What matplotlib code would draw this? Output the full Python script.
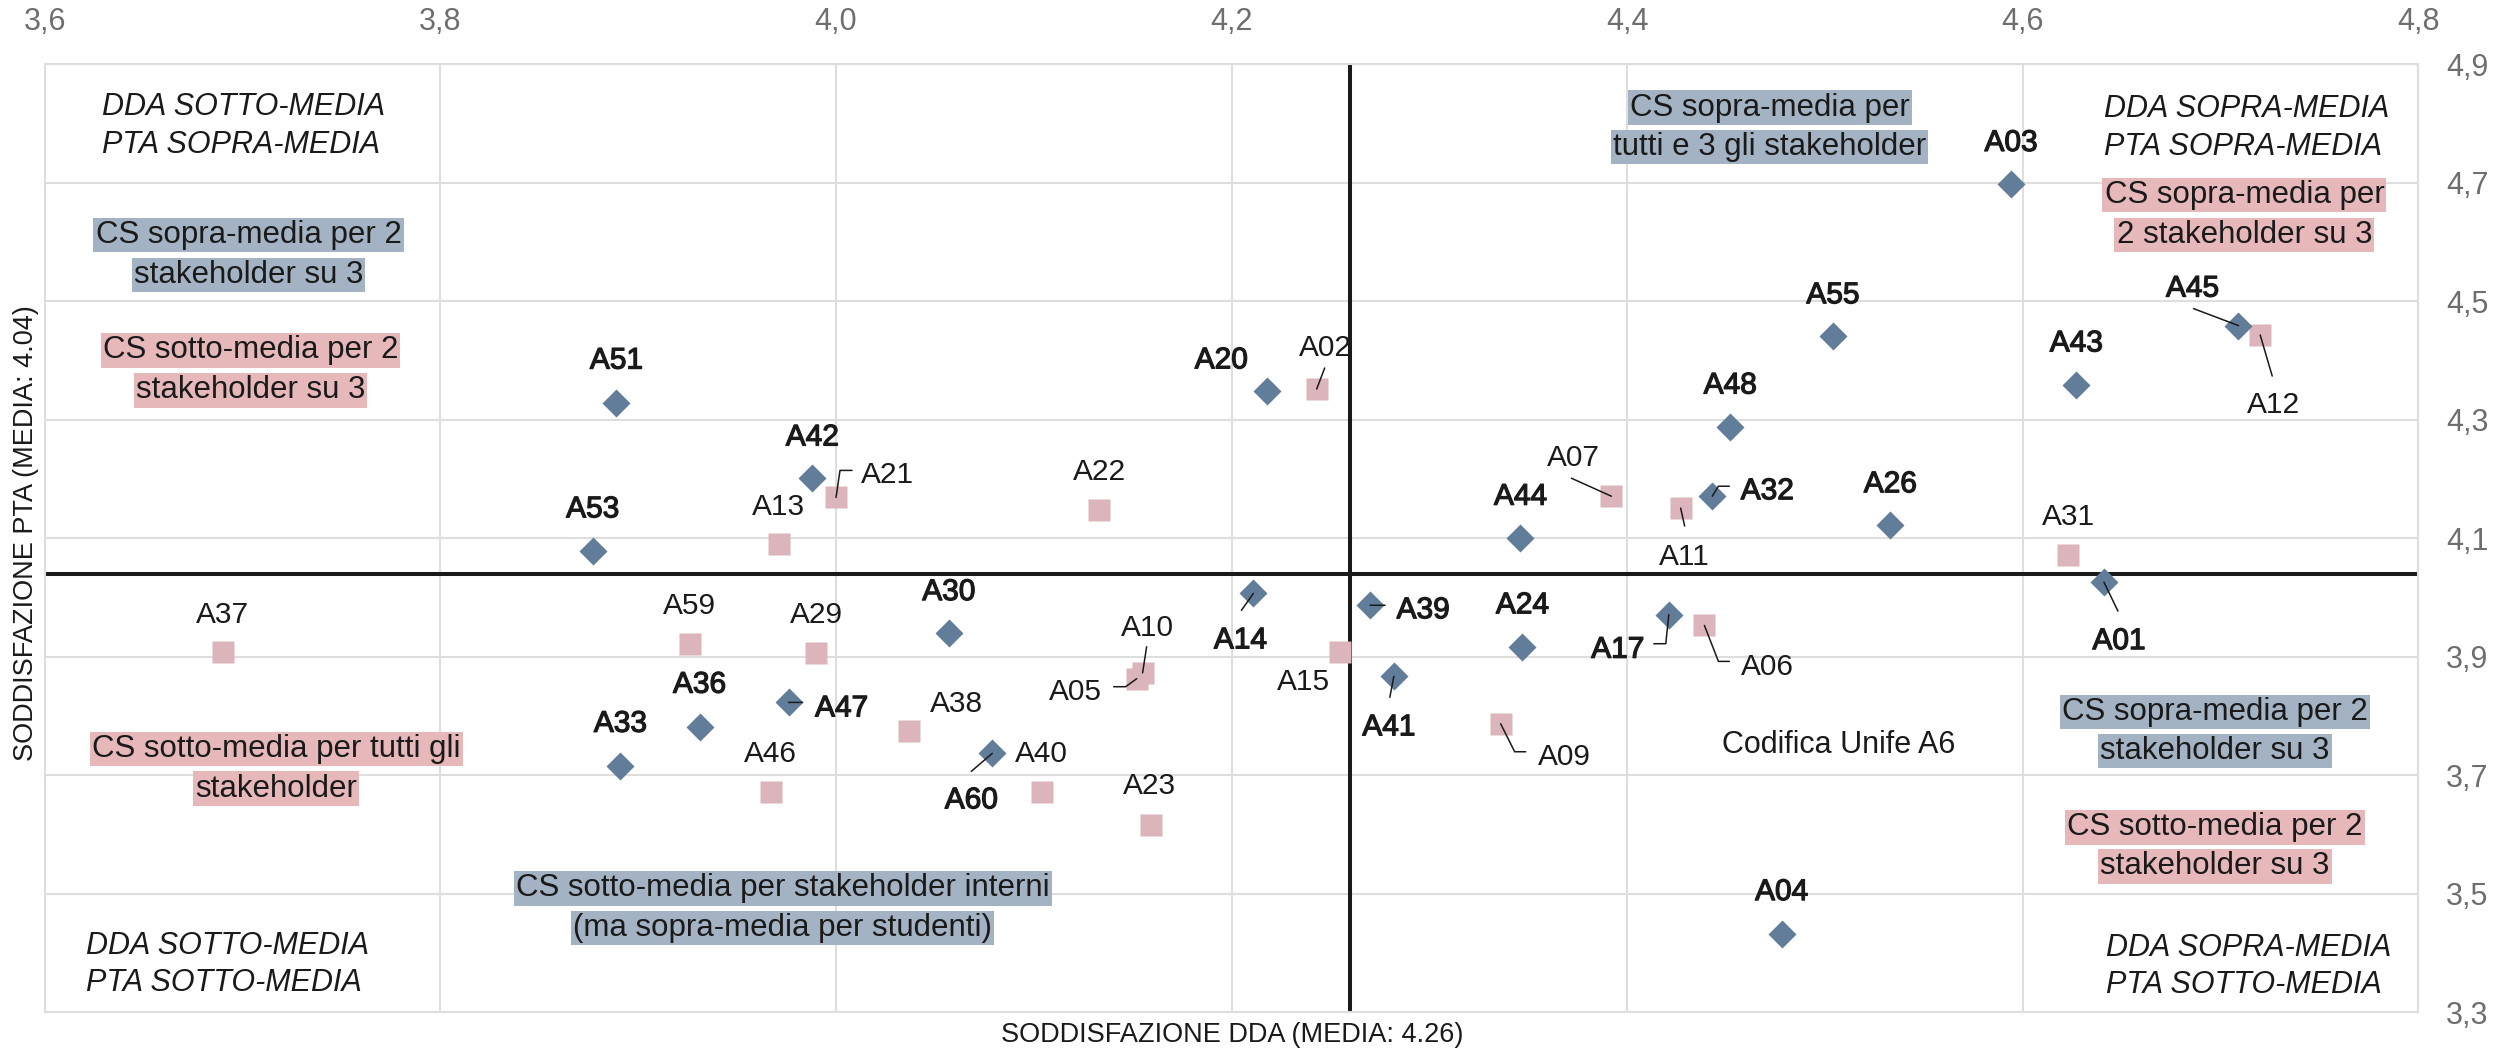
import numpy as np
import matplotlib
matplotlib.use("Agg")
import matplotlib.pyplot as plt
import matplotlib.patheffects as pe

plt.rcParams['font.family'] = ['Liberation Sans', 'DejaVu Sans']

# --- data -----------------------------------------------------------------
# diamonds: CdS with heavier labels
dia_codes = ["A51", "A42", "A53", "A20", "A44", "A03", "A55", "A45", "A43", "A48",
             "A32", "A26", "A36", "A33", "A47", "A30", "A14", "A39", "A24", "A17",
             "A41", "A60", "A01", "A04"]
dia_dda = [3.889, 3.988, 3.877, 4.218, 4.346, 4.594, 4.504, 4.709, 4.627, 4.452,
           4.443, 4.533, 3.931, 3.891, 3.976, 4.057, 4.211, 4.270, 4.347, 4.421,
           4.282, 4.079, 4.641, 4.478]
dia_pta = [4.329, 4.201, 4.078, 4.348, 4.101, 4.698, 4.441, 4.459, 4.358, 4.287,
           4.171, 4.122, 3.782, 3.716, 3.823, 3.940, 4.007, 3.987, 3.916, 3.971,
           3.867, 3.737, 4.026, 3.432]

# squares
sq_codes = ["A21", "A13", "A02", "A22", "A07", "A11", "A12", "A31", "A37", "A59",
            "A29", "A46", "A10", "A05", "A38", "A40", "A23", "A15", "A09", "A06"]
sq_dda = [4.000, 3.971, 4.243, 4.133, 4.392, 4.427, 4.720, 4.623, 3.690, 3.926,
          3.990, 3.967, 4.155, 4.152, 4.037, 4.104, 4.159, 4.255, 4.336, 4.439]
sq_pta = [4.169, 4.091, 4.352, 4.148, 4.171, 4.151, 4.443, 4.071, 3.908, 3.922,
          3.906, 3.671, 3.873, 3.863, 3.775, 3.672, 3.616, 3.908, 3.787, 3.953]

mean_dda = 4.26
mean_pta = 4.04

xticks = [3.6, 3.8, 4.0, 4.2, 4.4, 4.6, 4.8]
yticks = [3.3, 3.5, 3.7, 3.9, 4.1, 4.3, 4.5, 4.7, 4.9]

# --- label layout (offsets in pixels from the marker) -------------------------
label_off = {
    "A51": (0, 45), "A42": (0, 44), "A53": (0, 45), "A20": (-46, 34), "A44": (0, 44),
    "A03": (0, 44), "A55": (0, 44), "A45": (-46, 40), "A43": (0, 45), "A48": (0, 45),
    "A32": (55, 8), "A26": (0, 44), "A36": (0, 45), "A33": (0, 45), "A47": (53, -3),
    "A30": (0, 44), "A14": (-13, -44), "A39": (53, -2), "A24": (0, 45), "A17": (-51, -32),
    "A41": (-5, -48), "A60": (-21, -44), "A01": (15, -56), "A04": (0, 45),
    "A21": (51, 25), "A13": (0, 40), "A02": (9, 44), "A22": (0, 41), "A07": (-38, 41),
    "A11": (4, -46), "A12": (13, -67), "A31": (0, 41), "A37": (0, 40), "A59": (0, 41),
    "A29": (0, 41), "A46": (0, 41), "A10": (5, 48), "A05": (-61, -10), "A38": (47, 30),
    "A40": (0, 41), "A23": (-1, 42), "A15": (-37, -27), "A09": (64, -30), "A06": (63, -39),
}
# leader lines: start offset, optional elbow corner offset
leaders = {
    "A45": ((-45, 17), None), "A32": ((17, 10), (6, 10)), "A47": ((14, 0), None),
    "A14": ((-12, -17), None), "A39": ((15, 0), None), "A17": ((-15, -29), (-3, -29)),
    "A41": ((-4, -21), None), "A60": ((-21, -18), None), "A01": ((14, -29), None),
    "A21": ((16, 27), (4, 27)), "A02": ((8, 21), None), "A07": ((-40, 18), None),
    "A11": ((4, -18), None), "A12": ((12, -41), None), "A10": ((4, 26), None),
    "A05": ((-23, -8), (-11, -8)), "A09": ((25, -28), (14, -28)), "A06": ((25, -36), (14, -36)),
}

BLUE = '#617d99'
PINK = '#dbb5bb'
BOX_BLUE = '#a3b3c3'
BOX_PINK = '#e6b8b9'
INK = '#1a1a1a'
GRID = '#dedede'

fig = plt.figure(figsize=(25.01, 10.49), dpi=100)
ax = fig.add_axes([0.01791, 0.03499, 0.94909, 0.90372])
ax.set_xlim(3.6, 4.8)
ax.set_ylim(3.3, 4.9)

ax.set_xticks(xticks)
ax.set_yticks(yticks)
ax.set_xticklabels([f"{v:.1f}".replace('.', ',') for v in xticks])
ax.set_yticklabels([f"{v:.1f}".replace('.', ',') for v in yticks])
ax.xaxis.tick_top()
ax.yaxis.tick_right()
ax.tick_params(length=0, labelsize=22, labelcolor='#6e6e6e', pad=20)
ax.grid(True, color=GRID, linewidth=1.5)
ax.set_axisbelow(True)
for s in ax.spines.values():
    s.set_color(GRID)
    s.set_linewidth(1.5)

ax.axvline(mean_dda, color=INK, lw=2.9, zorder=2)
ax.axhline(mean_pta, color=INK, lw=2.9, zorder=2)

ax.plot(sq_dda, sq_pta, 's', ms=15.8, color=PINK, mec='none', zorder=3)
ax.plot(dia_dda, dia_pta, 'D', ms=14.5, color=BLUE, mec='none', zorder=4)

# semi-bold look for the diamond labels
semi = [pe.withStroke(linewidth=0.9, foreground=INK)]

points = {}
for c, x, y in zip(dia_codes, dia_dda, dia_pta):
    points[c] = (x, y, semi)
for c, x, y in zip(sq_codes, sq_dda, sq_pta):
    points[c] = (x, y, None)

for c, (x, y, fx) in points.items():
    dx, dy = label_off[c]
    ax.annotate(c, xy=(x, y), xytext=(dx, dy - 3), textcoords='offset pixels',
                ha='center', va='center', fontsize=21.5, color=INK, zorder=6,
                path_effects=fx)
    if c in leaders:
        start, corner = leaders[c]
        if corner is None:
            cs = 'arc3,rad=0'
        else:
            angB = np.degrees(np.arctan2(corner[1], corner[0]))
            cs = f'angle,angleA=0,angleB={angB:.1f},rad=0'
        ax.annotate('', xy=(x, y), xytext=start, textcoords='offset pixels',
                    arrowprops=dict(arrowstyle='-', color=INK, lw=1.1,
                                    shrinkA=0, shrinkB=0, connectionstyle=cs),
                    zorder=5)


def box_lines(x, y, lines, color, step=40):
    # highlight every line separately, boxes first then text
    for i, s in enumerate(lines):
        ax.annotate(s, xy=(x, y), xytext=(0, -i * step), textcoords='offset pixels',
                    ha='center', va='center', fontsize=22.5, color=(0, 0, 0, 0), zorder=6,
                    bbox=dict(boxstyle='square,pad=0.07', fc=color, ec='none'))
    for i, s in enumerate(lines):
        ax.annotate(s, xy=(x, y), xytext=(0, -i * step), textcoords='offset pixels',
                    ha='center', va='center', fontsize=22.5, color=INK, zorder=7)


def italic_lines(x, y, lines, step=38):
    for i, s in enumerate(lines):
        ax.annotate(s, xy=(x, y), xytext=(0, -i * step - 3), textcoords='offset pixels',
                    ha='left', va='center', fontsize=22, style='italic', color=INK, zorder=7)


italic_lines(3.629, 4.833, ["DDA SOTTO-MEDIA", "PTA SOPRA-MEDIA"])
italic_lines(4.641, 4.829, ["DDA SOPRA-MEDIA", "PTA SOPRA-MEDIA"])
italic_lines(3.621, 3.417, ["DDA SOTTO-MEDIA", "PTA SOTTO-MEDIA"], step=37.5)
italic_lines(4.642, 3.414, ["DDA SOPRA-MEDIA", "PTA SOTTO-MEDIA"], step=37.5)

box_lines(3.703, 4.612, ["CS sopra-media per 2", "stakeholder su 3"], BOX_BLUE)
box_lines(3.704, 4.417, ["CS sotto-media per 2", "stakeholder su 3"], BOX_PINK)
box_lines(4.472, 4.827, ["CS sopra-media per", "tutti e 3 gli stakeholder"], BOX_BLUE, step=39.5)
box_lines(4.712, 4.679, ["CS sopra-media per", "2 stakeholder su 3"], BOX_PINK)
box_lines(3.717, 3.744, ["CS sotto-media per tutti gli", "stakeholder"], BOX_PINK, step=39.4)
box_lines(3.973, 3.509, ["CS sotto-media per stakeholder interni", "(ma sopra-media per studenti)"],
          BOX_BLUE, step=39.3)
box_lines(4.697, 3.807, ["CS sopra-media per 2", "stakeholder su 3"], BOX_BLUE, step=39.4)
box_lines(4.697, 3.612, ["CS sotto-media per 2", "stakeholder su 3"], BOX_PINK, step=39)

ax.annotate("Codifica Unife A6", xy=(4.507, 3.757), xytext=(0, -3), textcoords='offset pixels',
            ha='center', va='center', fontsize=22, color=INK)

fig.text(0.4925, 1 - 1035 / 1049, "SODDISFAZIONE DDA (MEDIA: 4.26)",
         ha='center', va='center', fontsize=19.5, color=INK)
fig.text(26 / 2501, 1 - 533 / 1049, "SODDISFAZIONE PTA (MEDIA: 4.04)",
         ha='center', va='center', rotation=90, fontsize=19.5, color=INK)

fig.savefig("out.png", dpi=100, facecolor='white')
